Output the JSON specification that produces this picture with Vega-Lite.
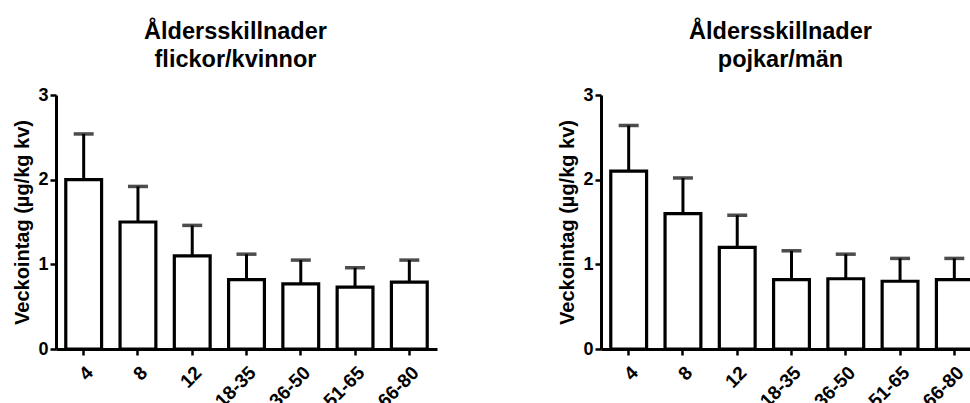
{
  "$schema": "https://vega.github.io/schema/vega-lite/v6.json",
  "padding": {"left": 12, "top": 19, "right": 0, "bottom": 0},
  "spacing": 120,
  "config": {
    "view": {"stroke": null},
    "font": "Liberation Sans",
    "axis": {
      "domainColor": "black", "domainWidth": 3, "tickColor": "black", "tickWidth": 2.5, "tickSize": 6,
      "labelFont": "Liberation Sans", "labelFontWeight": "bold", "labelFontSize": 18, "labelColor": "black",
      "titleFont": "Liberation Sans", "titleFontWeight": "bold", "titleFontSize": 20, "titleColor": "black",
      "grid": false
    },
    "title": {"font": "Liberation Sans", "fontWeight": "bold", "fontSize": 23.5, "color": "black", "lineHeight": 28, "offset": 15, "frame": "group", "dx": -11}
  },
  "datasets": {
    "f": [
      {"age": "4", "mean": 2.0, "upper": 2.54},
      {"age": "8", "mean": 1.5, "upper": 1.92},
      {"age": "12", "mean": 1.1, "upper": 1.46},
      {"age": "18-35", "mean": 0.82, "upper": 1.12},
      {"age": "36-50", "mean": 0.77, "upper": 1.05},
      {"age": "51-65", "mean": 0.73, "upper": 0.96},
      {"age": "66-80", "mean": 0.79, "upper": 1.05}
    ],
    "m": [
      {"age": "4", "mean": 2.1, "upper": 2.64},
      {"age": "8", "mean": 1.6, "upper": 2.02},
      {"age": "12", "mean": 1.2, "upper": 1.58},
      {"age": "18-35", "mean": 0.82, "upper": 1.16},
      {"age": "36-50", "mean": 0.83, "upper": 1.12},
      {"age": "51-65", "mean": 0.8, "upper": 1.07},
      {"age": "66-80", "mean": 0.82, "upper": 1.07}
    ]
  },
  "hconcat": [
    {
      "title": {"text": ["Åldersskillnader", "flickor/kvinnor"]},
      "width": 381, "height": 254,
      "data": {"name": "f"},
      "encoding": {
        "x": {"field": "age", "type": "nominal", "sort": null, "scale": {"paddingInner": 0.34, "paddingOuter": 0.18},
              "axis": {"title": null, "labelAngle": -45, "labelPadding": 8, "labelFontSize": 19}},
        "y": {"field": "mean", "type": "quantitative", "scale": {"domain": [0, 3]},
              "axis": {"title": "Veckointag (µg/kg kv)", "values": [0, 1, 2, 3], "labelPadding": 2, "titlePadding": 5}}
      },
      "layer": [
        {"mark": {"type": "rule", "color": "black", "strokeWidth": 3}, "encoding": {"y2": {"field": "upper"}}},
        {"mark": {"type": "tick", "color": "black", "thickness": 3.5, "size": 20}, "encoding": {"y": {"field": "upper", "type": "quantitative"}}},
        {"mark": {"type": "bar", "fill": "white", "stroke": "black", "strokeWidth": 3.2}}
      ]
    },
    {
      "title": {"text": ["Åldersskillnader", "pojkar/män"]},
      "width": 381, "height": 254,
      "data": {"name": "m"},
      "encoding": {
        "x": {"field": "age", "type": "nominal", "sort": null, "scale": {"paddingInner": 0.34, "paddingOuter": 0.18},
              "axis": {"title": null, "labelAngle": -45, "labelPadding": 8, "labelFontSize": 19}},
        "y": {"field": "mean", "type": "quantitative", "scale": {"domain": [0, 3]},
              "axis": {"title": "Veckointag (µg/kg kv)", "values": [0, 1, 2, 3], "labelPadding": 2, "titlePadding": 5}}
      },
      "layer": [
        {"mark": {"type": "rule", "color": "black", "strokeWidth": 3}, "encoding": {"y2": {"field": "upper"}}},
        {"mark": {"type": "tick", "color": "black", "thickness": 3.5, "size": 20}, "encoding": {"y": {"field": "upper", "type": "quantitative"}}},
        {"mark": {"type": "bar", "fill": "white", "stroke": "black", "strokeWidth": 3.2}}
      ]
    }
  ]
}
